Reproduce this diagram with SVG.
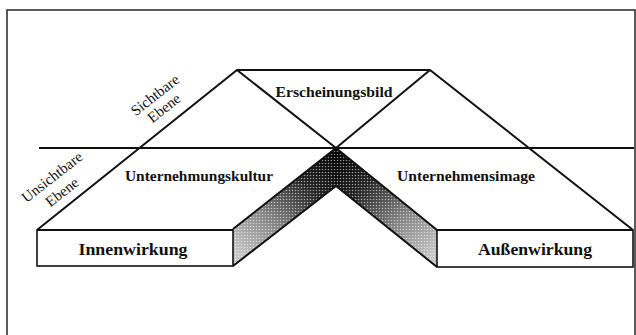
<svg xmlns="http://www.w3.org/2000/svg" width="636" height="335" viewBox="0 0 636 335">
  <style>
    .ln { fill: none; stroke: #111; stroke-width: 2; stroke-linejoin: miter; }
    .box { fill: #fff; stroke: #111; stroke-width: 1.6; }
    .hd { font-family: "Liberation Serif", "Times New Roman", serif; font-weight: bold; fill: #111; text-anchor: middle; }
    .lv { font-family: "Liberation Serif", "Times New Roman", serif; font-size: 15px; fill: #111; text-anchor: middle; }
  </style>
  <defs>
    <!-- halftone dots laid over the shaded side faces -->
    <pattern id="dots" width="3" height="3" patternUnits="userSpaceOnUse">
      <circle cx="1.5" cy="1.5" r="0.8" fill="#fff"/>
    </pattern>
    <linearGradient id="shadeL" gradientUnits="userSpaceOnUse" x1="336" y1="155" x2="240" y2="255">
      <stop offset="0" stop-color="#000"/>
      <stop offset="0.3" stop-color="#222"/>
      <stop offset="0.65" stop-color="#808080"/>
      <stop offset="1" stop-color="#c4c4c4"/>
    </linearGradient>
    <linearGradient id="shadeR" gradientUnits="userSpaceOnUse" x1="336" y1="155" x2="432" y2="255">
      <stop offset="0" stop-color="#000"/>
      <stop offset="0.3" stop-color="#222"/>
      <stop offset="0.65" stop-color="#808080"/>
      <stop offset="1" stop-color="#c4c4c4"/>
    </linearGradient>
  </defs>

  <rect width="636" height="335" fill="#fff"/>

  <!-- outer frame -->
  <g id="frame">
    <rect x="7" y="10" width="628" height="340" fill="none" stroke="#333" stroke-width="1.6"/>
  </g>

  <!-- shaded side faces of the two slabs -->
  <g id="side-faces">
    <polygon points="233,229 336,148 336,186 233,266" fill="url(#shadeL)"/>
    <polygon points="233,229 336,148 336,186 233,266" fill="url(#dots)" opacity="0.55"/>
    <polygon points="336,148 437,230 437,267 336,186" fill="url(#shadeR)"/>
    <polygon points="336,148 437,230 437,267 336,186" fill="url(#dots)" opacity="0.55"/>
    <polyline class="ln" points="233,229 336,148 437,230"/>
    <polyline class="ln" points="233,266 336,186 437,267" stroke-width="1.6"/>
  </g>

  <!-- upper surface: roof outline, visibility line and the crossing diagonals -->
  <g id="connectors">
    <polyline class="ln" points="37,230 237,70 430,70 633,230"/>
    <line class="ln" x1="39" y1="148" x2="634" y2="148"/>
    <line class="ln" x1="237" y1="70" x2="336" y2="148" stroke-width="1.6"/>
    <line class="ln" x1="430" y1="70" x2="336" y2="148" stroke-width="1.6"/>
  </g>

  <g id="erscheinungsbild">
    <text class="hd" x="334" y="97" font-size="15" textLength="117" lengthAdjust="spacingAndGlyphs">Erscheinungsbild</text>
  </g>

  <g id="unternehmungskultur">
    <text class="hd" x="199" y="181" font-size="15" textLength="148" lengthAdjust="spacingAndGlyphs">Unternehmungskultur</text>
  </g>

  <g id="unternehmensimage">
    <text class="hd" x="466" y="181" font-size="15" textLength="138" lengthAdjust="spacingAndGlyphs">Unternehmensimage</text>
  </g>

  <g id="innenwirkung">
    <rect class="box" x="37" y="230" width="196" height="36"/>
    <line class="ln" x1="37" y1="230" x2="233" y2="230" stroke-width="2.4"/>
    <text class="hd" x="133" y="255" font-size="17" textLength="109" lengthAdjust="spacingAndGlyphs">Innenwirkung</text>
  </g>

  <g id="aussenwirkung">
    <rect class="box" x="437" y="230" width="196" height="37"/>
    <line class="ln" x1="437" y1="230" x2="633" y2="230" stroke-width="2.4"/>
    <text class="hd" x="535" y="255" font-size="17" textLength="114" lengthAdjust="spacingAndGlyphs">Außenwirkung</text>
  </g>

  <!-- level labels set along the roof slope -->
  <g id="sichtbare-ebene">
    <text class="lv" transform="translate(155,95) rotate(-38)" y="5">Sichtbare</text>
    <text class="lv" transform="translate(164,108) rotate(-38)" y="5">Ebene</text>
  </g>
  <g id="unsichtbare-ebene">
    <text class="lv" transform="translate(52,177) rotate(-38)" y="5">Unsichtbare</text>
    <text class="lv" transform="translate(62,192) rotate(-38)" y="5">Ebene</text>
  </g>
</svg>
